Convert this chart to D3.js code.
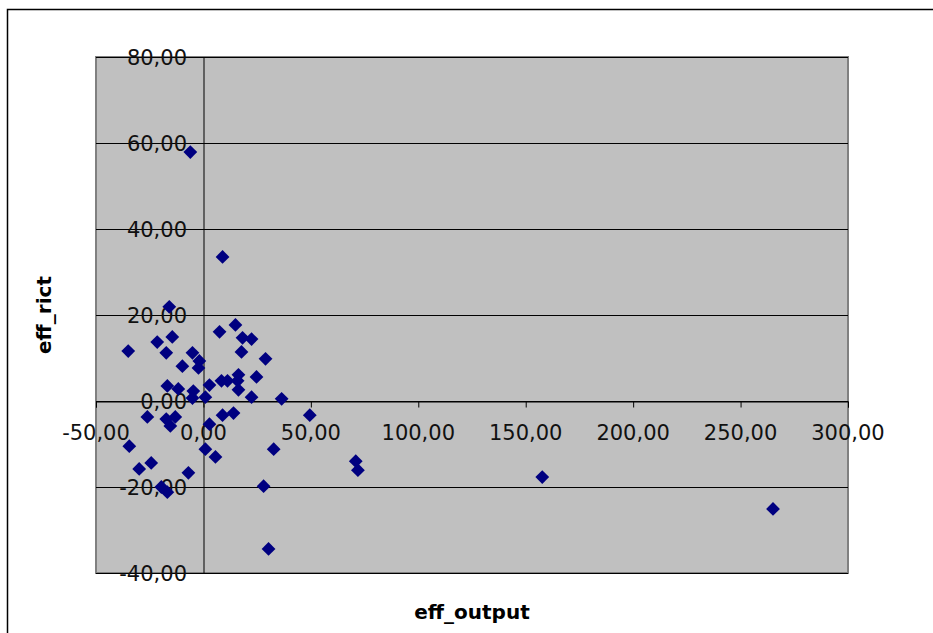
<!DOCTYPE html>
<html>
<head>
<meta charset="utf-8">
<script src="https://cdn.jsdelivr.net/npm/d3@7"></script>
<style>
  body { margin: 0; background: #fff; }
  text { font-family: "DejaVu Sans", Verdana, sans-serif; }
</style>
</head>
<body>
<div id="chart"></div>
<script>
// x values (eff_output) and y values (eff_rict)
const effOutput = [-6.1, 8.9, -15.9, -35.0, -21.5, -14.5, -17.3, -5.1, -9.8, -1.9,
                   -2.3, 7.5, 14.9, 18.2, 22.4, 17.7, 28.9, 16.3, 24.7, 8.4,
                   11.2, 15.9, 2.8, 16.3, 22.4, 36.4, -16.8, -11.7, -4.7, -5.1,
                   0.9, -26.1, -17.3, -13.1, -15.4, -34.5, -29.9, -24.3, -7.0, -19.6,
                   -16.8, 2.8, 0.9, 5.6, 8.9, 14.0, 49.5, 32.7, 70.9, 71.9,
                   28.0, 30.3, 157.7, 265.1];
const effRict   = [57.9, 33.5, 21.9, 11.6, 13.7, 14.9, 11.2, 11.2, 8.1, 9.3,
                   7.7, 16.1, 17.7, 14.7, 14.4, 11.4, 9.8, 6.1, 5.6, 4.7,
                   4.7, 4.7, 3.7, 2.6, 0.9, 0.5, 3.5, 2.8, 2.3, 0.7,
                   0.9, -3.7, -4.2, -3.7, -5.8, -10.5, -15.8, -14.4, -16.7, -20.0,
                   -21.2, -5.4, -11.2, -13.0, -3.3, -2.8, -3.3, -11.2, -14.0, -16.1,
                   -19.8, -34.4, -17.7, -25.1];
const xTicks = [-50, 0, 50, 100, 150, 200, 250, 300];
const yTicks = [-40, -20, 0, 20, 40, 60, 80];

function init() {
    const width = 933, height = 633;
    const plot = { left: 96, right: 848, top: 57, bottom: 573 };

    // comma decimals, plain hyphen for negatives
    const fmt = v => v.toFixed(2).replace(".", ",");

    const svg = d3.select("#chart")
                  .append("svg")
                  .attr("width", width)
                  .attr("height", height);

    // chart border (runs off the right/bottom edge)
    svg.append("rect")
       .attr("x", 7.5).attr("y", 9.5)
       .attr("width", 1000).attr("height", 1000)
       .attr("fill", "#fff")
       .attr("stroke", "#000")
       .attr("stroke-width", 1.5);

    const x = d3.scaleLinear().domain([-50, 300]).range([plot.left, plot.right]);
    const y = d3.scaleLinear().domain([-40, 80]).range([plot.bottom, plot.top]);

    // plot area
    svg.append("rect")
       .attr("x", plot.left).attr("y", plot.top)
       .attr("width", plot.right - plot.left)
       .attr("height", plot.bottom - plot.top)
       .attr("fill", "#c0c0c0")
       .attr("stroke", "#808080")
       .attr("stroke-width", 2);

    // horizontal gridlines
    svg.selectAll(".grid")
       .data(yTicks)
       .join("line")
       .attr("x1", plot.left).attr("x2", plot.right)
       .attr("y1", d => Math.round(y(d)) + 0.5)
       .attr("y2", d => Math.round(y(d)) + 0.5)
       .attr("stroke", "#000")
       .attr("stroke-width", 1);

    // axes crossing at 0
    const xAxis = d3.axisBottom(x).tickValues(xTicks).tickSize(6).tickFormat("");
    svg.append("g")
       .attr("transform", `translate(0,${Math.round(y(0)) + 0.5})`)
       .call(xAxis)
       .call(g => g.select(".domain").attr("stroke", "#000"));

    const yAxis = d3.axisLeft(y).tickValues(yTicks).tickSize(6).tickFormat("");
    svg.append("g")
       .attr("transform", `translate(${Math.round(x(0)) + 0.5},0)`)
       .call(yAxis)
       .call(g => g.select(".domain").attr("stroke", "#000"));

    // tick labels
    svg.selectAll(".xlab")
       .data(xTicks)
       .join("text")
       .attr("x", d => x(d))
       .attr("y", 440)
       .attr("text-anchor", "middle")
       .attr("font-size", 21)
       .attr("fill", "#111")
       .text(fmt);

    svg.selectAll(".ylab")
       .data(yTicks)
       .join("text")
       .attr("x", 187)
       .attr("y", d => y(d) + 8)
       .attr("text-anchor", "end")
       .attr("font-size", 21)
       .attr("fill", "#111")
       .text(fmt);

    // points
    const diamond = d3.symbol().type(d3.symbolSquare).size(95);
    svg.selectAll(".pt")
       .data(effOutput.map((v, i) => [v, effRict[i]]))
       .join("path")
       .attr("d", diamond)
       .attr("transform", d => `translate(${x(d[0])},${y(d[1])}) rotate(45)`)
       .attr("fill", "#000080");

    // axis titles
    svg.append("text")
       .attr("x", (plot.left + plot.right) / 2)
       .attr("y", 619)
       .attr("text-anchor", "middle")
       .attr("font-size", 20)
       .attr("font-weight", "bold")
       .text("eff_output");

    svg.append("text")
       .attr("transform", `translate(51,${(plot.top + plot.bottom) / 2}) rotate(-90)`)
       .attr("text-anchor", "middle")
       .attr("font-size", 20)
       .attr("font-weight", "bold")
       .text("eff_rict");
}

window.onload = init;
</script>
</body>
</html>
